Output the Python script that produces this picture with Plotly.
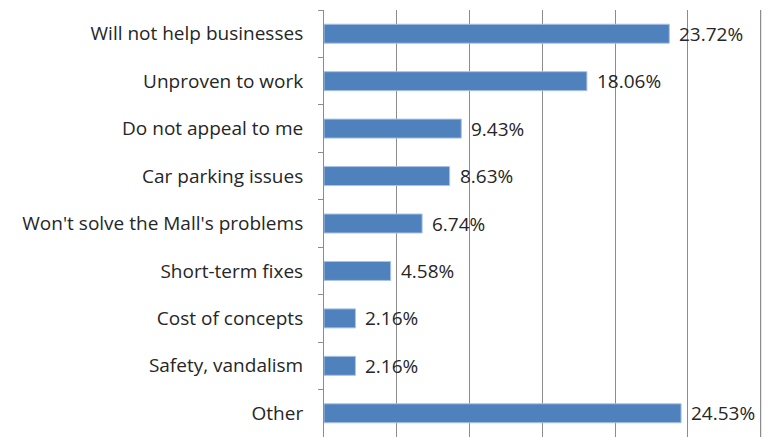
import plotly.graph_objects as go

categories = [
    "Will not help businesses",
    "Unproven to work",
    "Do not appeal to me",
    "Car parking issues",
    "Won't solve the Mall's problems",
    "Short-term fixes",
    "Cost of concepts",
    "Safety, vandalism",
    "Other",
]
values = [23.72, 18.06, 9.43, 8.63, 6.74, 4.58, 2.16, 2.16, 24.53]
x_ticks = [0, 5, 10, 15, 20, 25, 30]

FONT = "Open Sans"
TXT = "#262626"
GRID = "#8C8C8C"

fig = go.Figure(
    go.Bar(
        y=categories,
        x=values,
        orientation="h",
        marker=dict(color="#4F81BD", line=dict(color="#A9C3E3", width=1)),
        cliponaxis=False,
    )
)

for c, v in zip(categories, values):
    fig.add_annotation(
        x=v, y=c, text=f"{v:.2f}%", showarrow=False,
        xanchor="left", yanchor="middle", xshift=8,
        font=dict(family=FONT, size=19, color=TXT),
    )

# outermost gridline at the end of the value axis
fig.add_shape(
    type="line", xref="x", yref="paper",
    x0=x_ticks[-1], x1=x_ticks[-1], y0=0, y1=1,
    line=dict(color=GRID, width=1), layer="below",
)

fig.update_layout(
    width=770,
    height=437,
    margin=dict(l=324, r=2, t=10, b=0, autoexpand=False),
    paper_bgcolor="white",
    plot_bgcolor="white",
    bargap=0.6,
    showlegend=False,
    font=dict(family=FONT, size=19, color=TXT),
)
fig.update_xaxes(
    range=[0, 30.5],
    tickvals=x_ticks,
    showticklabels=False,
    showgrid=True,
    gridcolor=GRID,
    gridwidth=1,
    zeroline=False,
    showline=False,
    automargin=False,
)
fig.update_yaxes(
    autorange="reversed",
    showline=True,
    linecolor=GRID,
    linewidth=1,
    ticks="outside",
    ticklen=5,
    tickcolor=GRID,
    tickson="boundaries",
    ticklabelstandoff=16,
    showgrid=False,
    automargin=False,
)
fig.write_html(
    "out.html",
    config={"displayModeBar": False},
    post_script="document.body.style.margin='0';document.body.style.overflow='hidden';",
)
